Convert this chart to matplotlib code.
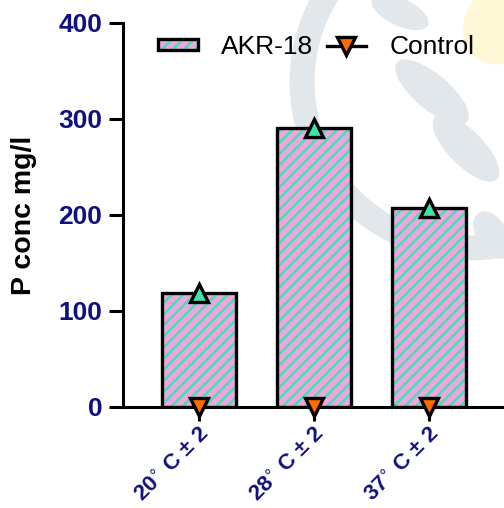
import matplotlib.pyplot as plt
import numpy as np
from matplotlib.lines import Line2D
from matplotlib.patches import Patch, Arc, Ellipse
from matplotlib.legend_handler import HandlerTuple

plt.rcParams['font.family'] = ['Liberation Sans', 'DejaVu Sans']
plt.rcParams['hatch.linewidth'] = 1.8

# Datos
categories = ['20$^{\\circ}$ C ± 2', '28$^{\\circ}$ C ± 2', '37$^{\\circ}$ C ± 2']
akr18 = [119, 290, 207]
control = [0, 0, 0]

navy = '#10107e'
pink = '#f0a4e4'
green = '#40e4a8'
orange = '#ff6a00'
wm_gray = '#e1e7eb'
wm_yellow = '#fff7d6'

W, H = 504, 508
fig = plt.figure(figsize=(W / 100, H / 100), dpi=100)

# Marca de agua de fondo (aproximada)
def px(x, y):
    return (x / W, 1 - y / H)

fig.patches.append(Arc(px(468, 82), 2 * 166 / W, 2 * 166 / H, theta1=140, theta2=300,
                       color=wm_gray, linewidth=18, transform=fig.transFigure, zorder=0))
for (cx, cy, w, h, ang) in [(400, 12, 60, 26, -25), (432, 92, 90, 34, -40),
                            (466, 148, 86, 34, -45), (492, 235, 50, 30, -60)]:
    fig.patches.append(Ellipse(px(cx, cy), w / W, h / H, angle=ang, color=wm_gray,
                               transform=fig.transFigure, zorder=0))
fig.patches.append(Ellipse(px(500, 25), 70 / W, 80 / H, angle=-30, color=wm_yellow,
                           transform=fig.transFigure, zorder=0))

ax = fig.add_axes([0.244, 0.199, 0.756, 0.756])
ax.set_zorder(2)
ax.patch.set_alpha(0)

x = np.arange(len(categories))
ax.bar(x, akr18, width=0.64, color=pink, edgecolor=green, linewidth=0,
       hatch='///', zorder=2)
ax.bar(x, akr18, width=0.64, fill=False, edgecolor='black', linewidth=2.4, zorder=3)
ax.plot(x, akr18, linestyle='none', marker='^', markersize=13,
        markerfacecolor=green, markeredgecolor='black', markeredgewidth=2.4,
        zorder=4, clip_on=False)
ax.plot(x, control, linestyle='none', marker='v', markersize=13,
        markerfacecolor=orange, markeredgecolor='black', markeredgewidth=2.4,
        zorder=4, clip_on=False)

ax.set_xlim(-0.66, 2.653)
ax.set_ylim(0, 400)
ax.set_yticks([0, 100, 200, 300, 400])
ax.set_xticks(x)
ax.set_xticklabels(categories, rotation=45, ha='right', rotation_mode='anchor',
                   fontsize=16, fontweight='bold', color=navy)
for lbl in ax.get_yticklabels():
    lbl.set_fontsize(19)
    lbl.set_fontweight('bold')
    lbl.set_color(navy)

ax.spines['top'].set_visible(False)
ax.spines['right'].set_visible(False)
ax.spines['left'].set_linewidth(2.2)
ax.spines['bottom'].set_linewidth(2.2)
ax.tick_params(axis='y', length=10, width=2.2, pad=5)
ax.tick_params(axis='x', length=10, width=2.2, pad=2)

ax.set_ylabel('P conc mg/l', fontsize=20.5, fontweight='bold', labelpad=15)

# Leyenda
akr_handle = (Patch(facecolor=pink, edgecolor=green, linewidth=0, hatch='///'),
              Patch(fill=False, edgecolor='black', linewidth=2.4))
ctrl_handle = Line2D([0], [0], color='black', linewidth=2.4, marker='v', markersize=13,
                     markerfacecolor=orange, markeredgecolor='black', markeredgewidth=2.4)
ax.legend([akr_handle, ctrl_handle], ['AKR-18', 'Control'], loc='center left', ncol=2,
          frameon=False, fontsize=19, bbox_to_anchor=(0.092, 0.937),
          handler_map={tuple: HandlerTuple(ndivide=1)},
          handlelength=1.5, handleheight=0.3, columnspacing=0.5, handletextpad=0.9,
          borderpad=0, borderaxespad=0)

fig.savefig('out.png', dpi=100)
